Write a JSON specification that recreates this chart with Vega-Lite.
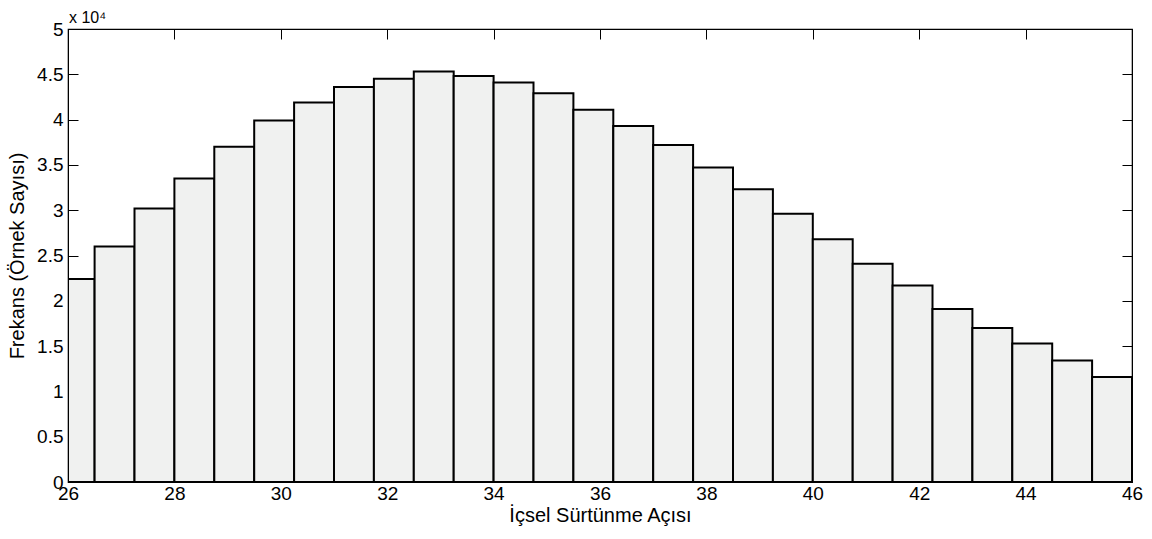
{
  "$schema": "https://vega.github.io/schema/vega-lite/v6.json",
  "autosize": "none",
  "width": 1064,
  "height": 453,
  "padding": {"left": 68, "top": 29, "right": 20, "bottom": 57},
  "background": "white",
  "config": {
    "font": "Liberation Sans",
    "view": {"stroke": "#000000", "strokeWidth": 1.2},
    "axis": {
      "grid": false,
      "domainColor": "#000000",
      "tickColor": "#000000",
      "labelColor": "#000000",
      "titleColor": "#000000",
      "labelFont": "Liberation Sans",
      "titleFont": "Liberation Sans",
      "labelFontSize": 19,
      "titleFontSize": 20,
      "titleFontWeight": "normal",
      "labelOverlap": false,
      "labelFlush": false
    }
  },
  "title": {
    "text": "x 10⁴",
    "anchor": "start",
    "frame": "group",
    "fontSize": 16,
    "fontWeight": "normal",
    "font": "Liberation Sans",
    "color": "#000000",
    "offset": -6,
    "dx": 1
  },
  "data": {
    "values": [
      {"bin_start": 26.0, "bin_end": 26.5, "count": 22400},
      {"bin_start": 26.5, "bin_end": 27.25, "count": 26000},
      {"bin_start": 27.25, "bin_end": 28.0, "count": 30200},
      {"bin_start": 28.0, "bin_end": 28.75, "count": 33500},
      {"bin_start": 28.75, "bin_end": 29.5, "count": 37000},
      {"bin_start": 29.5, "bin_end": 30.25, "count": 39900},
      {"bin_start": 30.25, "bin_end": 31.0, "count": 41900},
      {"bin_start": 31.0, "bin_end": 31.75, "count": 43600},
      {"bin_start": 31.75, "bin_end": 32.5, "count": 44500},
      {"bin_start": 32.5, "bin_end": 33.25, "count": 45300},
      {"bin_start": 33.25, "bin_end": 34.0, "count": 44800},
      {"bin_start": 34.0, "bin_end": 34.75, "count": 44100},
      {"bin_start": 34.75, "bin_end": 35.5, "count": 42900},
      {"bin_start": 35.5, "bin_end": 36.25, "count": 41100},
      {"bin_start": 36.25, "bin_end": 37.0, "count": 39300},
      {"bin_start": 37.0, "bin_end": 37.75, "count": 37200},
      {"bin_start": 37.75, "bin_end": 38.5, "count": 34700},
      {"bin_start": 38.5, "bin_end": 39.25, "count": 32300},
      {"bin_start": 39.25, "bin_end": 40.0, "count": 29600},
      {"bin_start": 40.0, "bin_end": 40.75, "count": 26800},
      {"bin_start": 40.75, "bin_end": 41.5, "count": 24100},
      {"bin_start": 41.5, "bin_end": 42.25, "count": 21700},
      {"bin_start": 42.25, "bin_end": 43.0, "count": 19100},
      {"bin_start": 43.0, "bin_end": 43.75, "count": 17000},
      {"bin_start": 43.75, "bin_end": 44.5, "count": 15300},
      {"bin_start": 44.5, "bin_end": 45.25, "count": 13400},
      {"bin_start": 45.25, "bin_end": 46.0, "count": 11600}
    ]
  },
  "layer": [
    {
      "mark": {"type": "bar", "fill": "#f0f1f0", "stroke": "#000000", "strokeWidth": 2, "clip": true},
      "encoding": {
        "x": {
          "field": "bin_start", "type": "quantitative",
          "scale": {"domain": [26, 46], "nice": false, "zero": false},
          "axis": {"orient": "bottom", "values": [26,28,30,32,34,36,38,40,42,44,46], "tickSize": -10, "labelPadding": 12, "title": "İçsel Sürtünme Açısı", "titlePadding": 2}
        },
        "x2": {"field": "bin_end"},
        "y": {
          "field": "count", "type": "quantitative",
          "scale": {"domain": [0, 50000], "nice": false},
          "axis": {"orient": "left", "values": [0,5000,10000,15000,20000,25000,30000,35000,40000,45000,50000], "labelExpr": "format(datum.value/10000, '~g')", "tickSize": -10, "labelPadding": 15, "title": "Frekans (Örnek Sayısı)", "titlePadding": 9}
        },
        "y2": {"datum": 0}
      }
    },
    {
      "mark": {"type": "bar", "opacity": 0},
      "encoding": {
        "x": {
          "field": "bin_start", "type": "quantitative",
          "scale": {"domain": [26, 46], "nice": false, "zero": false},
          "axis": {"orient": "top", "values": [26,28,30,32,34,36,38,40,42,44,46], "tickSize": -10, "labels": false, "title": null}
        },
        "x2": {"field": "bin_end"},
        "y": {
          "field": "count", "type": "quantitative",
          "scale": {"domain": [0, 50000], "nice": false},
          "axis": {"orient": "right", "values": [0,5000,10000,15000,20000,25000,30000,35000,40000,45000,50000], "tickSize": -10, "labels": false, "title": null}
        },
        "y2": {"datum": 0}
      }
    }
  ],
  "resolve": {"axis": {"x": "independent", "y": "independent"}}
}
